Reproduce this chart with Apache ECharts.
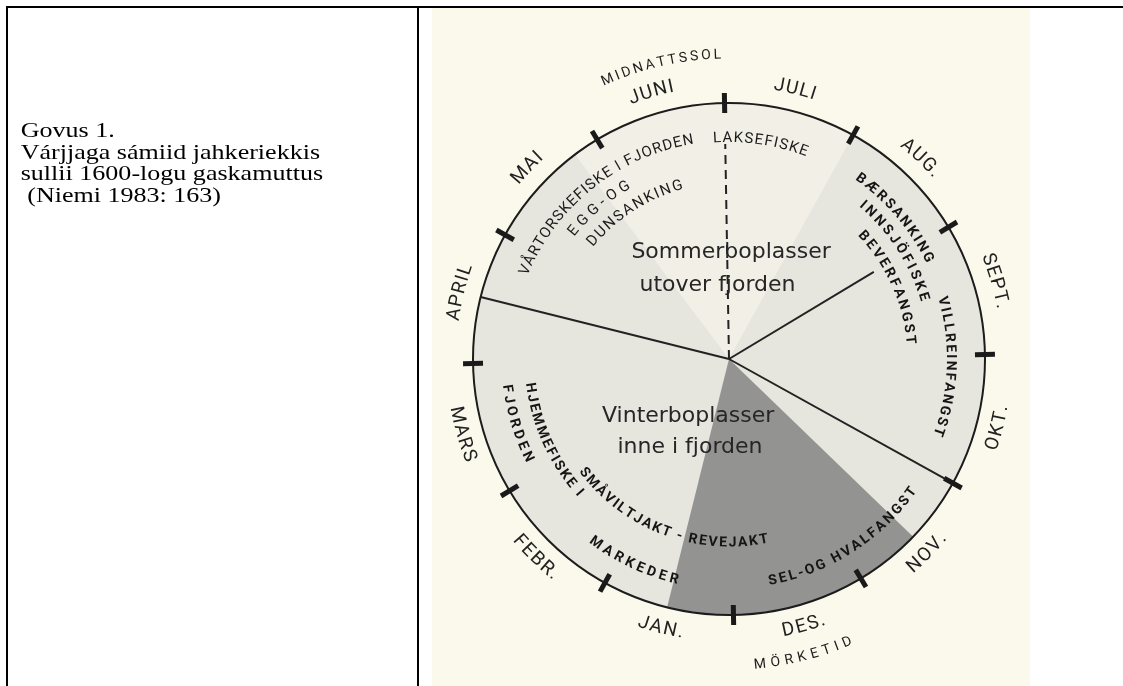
<!DOCTYPE html>
<html>
<head>
<meta charset="utf-8">
<style>
  html, body { margin: 0; padding: 0; background: #fff; }
  #chart { width: 1123px; height: 686px; }
</style>
<script src="https://cdn.jsdelivr.net/npm/echarts@6/dist/echarts.min.js"></script>
</head>
<body>
<div id="chart"></div>
<script>
// months run clockwise from the top, one axis unit per month
const months = ['JULI', 'AUG.', 'SEPT.', 'OKT.', 'NOV.', 'DES.', 'JAN.', 'FEBR.', 'MARS', 'APRIL', 'MAI', 'JUNI'];

// shaded periods, [from, to] in months
const wholeYear = [0, 12];
const midnightSun = [10.8, 13];
const darkTime = [4.5, 6.5];

// lines out from the hub: [month, radius]
const dividers = [[9.5, 1.0], [4.0, 1.02], [2.0, 0.66]];
const salmonLine = [[0.0, 0.84]];

// outer notes
const noteTexts = ['MIDNATTSSOL', 'MÖRKETID'];
const noteFrom = [11.25, 5.84];
const noteTo = [11.96, 5.28];
const noteRadius = [1.188, 1.2];

// spring / summer activities
const activityTexts = ['VÅRTORSKEFISKE I FJORDEN', 'EGG-OG', 'DUNSANKING', 'LAKSEFISKE'];
const activityFrom = [9.82, 10.35, 10.40, -0.07];
const activityTo = [11.68, 10.99, 11.48, 0.69];
const activityRadius = [0.867, 0.785, 0.703, 0.862];

// autumn / winter activities
const huntTexts = ['BÆRSANKING', 'INNSJÖFISKE', 'BEVERFANGST', 'VILLREINFANGST', 'HJEMMEFISKE I', 'FJORDEN',
  'SMÅVILTJAKT - REVEJAKT', 'MARKEDER', 'SEL-OG HVALFANGST'];
const huntFrom = [1.24, 1.40, 1.62, 2.53, 8.76, 8.78, 7.76, 7.23, 5.66];
const huntTo = [2.13, 2.44, 2.83, 3.67, 7.64, 8.17, 5.67, 6.50, 4.24];
const huntRadius = [0.871, 0.797, 0.711, 0.865, 0.785, 0.875, 0.719, 0.887, 0.883];

// settlement labels: [month, radius]
const campTexts = ['Sommerboplasser', 'utover fjorden', 'Vinterboplasser', 'inne i fjorden'];
const campAt = [[0.07, 0.418], [11.74, 0.293], [7.22, 0.274], [6.83, 0.376]];

const captionLines = ['Govus 1.', 'Várjjaga sámiid jahkeriekkis', 'sullii 1600-logu gaskamuttus', ' (Niemi 1983: 163)'];

const unitDeg = 360 / months.length;
const ctx = document.createElement('canvas').getContext('2d');
const INK = '#1c1c1c';

function widths(text, st) {
  ctx.font = `${st.fontWeight} ${st.fontSize}px ${st.fontFamily}`;
  return Array.from(text).map((ch) => ctx.measureText(ch).width);
}

function radiusPx(api) {
  const c = api.coord([0, 0]);
  const e = api.coord([1, 0]);
  return Math.hypot(e[0] - c[0], e[1] - c[1]);
}

// put characters one by one along the circle
function arcGroup(api, text, st, v0, dir, rf, steps) {
  const c = api.coord([0, 0]);
  const R = radiusPx(api);
  let s = 0;
  const children = Array.from(text).map((ch, k) => {
    if (k > 0) s += steps[k - 1];
    const v = v0 + dir * (s / (rf * R)) * 180 / Math.PI / unitDeg;
    const p = api.coord([rf, v]);
    const a = Math.atan2(p[0] - c[0], c[1] - p[1]);
    return {
      type: 'text', x: p[0], y: p[1], rotation: dir > 0 ? -a : Math.PI - a,
      style: { text: ch, fill: st.fill, fontSize: st.fontSize, fontFamily: st.fontFamily, fontWeight: st.fontWeight, align: 'center', verticalAlign: 'middle' }
    };
  });
  return { type: 'group', children };
}

function fittedArc(api, text, st, v0, v1, rf) {
  const w = widths(text, st);
  const R = radiusPx(api);
  let nat = 0;
  for (let k = 1; k < w.length; k++) nat += (w[k - 1] + w[k]) / 2;
  const target = Math.abs(v1 - v0) * unitDeg * Math.PI / 180 * rf * R;
  const extra = w.length > 1 ? (target - nat) / (w.length - 1) : 0;
  const steps = [];
  for (let k = 1; k < w.length; k++) steps.push((w[k - 1] + w[k]) / 2 + extra);
  return arcGroup(api, text, st, v0, v1 >= v0 ? 1 : -1, rf, steps);
}

function centeredArc(api, text, st, vc, rf, sp, dir) {
  const w = widths(text, st);
  const R = radiusPx(api);
  const steps = [];
  let total = 0;
  for (let k = 1; k < w.length; k++) { steps.push((w[k - 1] + w[k]) / 2 + sp); total += steps[k - 1]; }
  const half = (total / 2) / (rf * R) * 180 / Math.PI / unitDeg;
  return arcGroup(api, text, st, vc - dir * half, dir, rf, steps);
}

function wedge(api, fill, withHub) {
  const v0 = api.value(0), v1 = api.value(1);
  const pts = withHub ? [api.coord([0, 0])] : [];
  const n = 120;
  for (let k = 0; k <= n; k++) pts.push(api.coord([1, v0 + (v1 - v0) * k / n]));
  return { type: 'polygon', shape: { points: pts }, style: { fill } };
}

const monthStyle = { fontSize: 19, fontFamily: 'Roboto', fontWeight: 400, fill: '#222' };
const noteStyle = { fontSize: 14, fontFamily: 'Roboto', fontWeight: 400, fill: INK };
const activityStyle = { fontSize: 15, fontFamily: 'Roboto', fontWeight: 400, fill: INK };
const huntStyle = { fontSize: 14, fontFamily: 'Roboto', fontWeight: 700, fill: '#151515' };

const chart = echarts.init(document.getElementById('chart'));

const option = {
  animation: false,
  polar: { center: [729, 359], radius: 256 },
  angleAxis: {
    type: 'value', min: 0, max: 12, interval: 1, startAngle: 91, clockwise: true, z: 5,
    axisLine: { show: true, lineStyle: { color: INK, width: 2 } },
    axisTick: { show: false }, axisLabel: { show: false }, splitLine: { show: false }
  },
  radiusAxis: {
    type: 'value', min: 0, max: 1,
    axisLine: { show: false }, axisTick: { show: false }, axisLabel: { show: false }, splitLine: { show: false }
  },
  graphic: [
    { type: 'rect', z: -10, shape: { x: 432, y: 8, width: 598, height: 678 }, style: { fill: '#fbf9ec' } },
    { type: 'line', shape: { x1: 6, y1: 7, x2: 1123, y2: 7 }, style: { stroke: '#000', lineWidth: 2 } },
    { type: 'line', shape: { x1: 7, y1: 6, x2: 7, y2: 686 }, style: { stroke: '#000', lineWidth: 2 } },
    { type: 'line', shape: { x1: 418, y1: 6, x2: 418, y2: 686 }, style: { stroke: '#000', lineWidth: 2 } },
    ...captionLines.map((t, i) => ({
      type: 'text', x: 20.7, y: 131.5 + i * 21.5, scaleX: 1.24,
      style: { text: t, fontSize: 21, fontFamily: '"Liberation Serif", "Times New Roman", serif', fill: '#000', verticalAlign: 'middle' }
    }))
  ],
  series: [
    {
      type: 'custom', coordinateSystem: 'polar', z: 1, silent: true,
      data: [wholeYear],
      renderItem: (params, api) => wedge(api, '#e6e5de', false)
    },
    {
      type: 'custom', coordinateSystem: 'polar', z: 1, silent: true,
      data: [midnightSun],
      renderItem: (params, api) => wedge(api, '#f1efe6', true)
    },
    {
      type: 'custom', coordinateSystem: 'polar', z: 2, silent: true,
      data: [darkTime],
      renderItem: (params, api) => wedge(api, '#939392', true)
    },
    {
      type: 'custom', coordinateSystem: 'polar', z: 3, silent: true,
      data: dividers,
      renderItem: (params, api) => {
        const c = api.coord([0, 0]);
        const p = api.coord([api.value(1), api.value(0)]);
        return { type: 'line', shape: { x1: c[0], y1: c[1], x2: p[0], y2: p[1] }, style: { stroke: '#222', lineWidth: 2 } };
      }
    },
    {
      type: 'custom', coordinateSystem: 'polar', z: 3, silent: true,
      data: salmonLine,
      renderItem: (params, api) => {
        const c = api.coord([0, 0]);
        const p = api.coord([api.value(1), api.value(0)]);
        return { type: 'line', shape: { x1: c[0], y1: c[1], x2: p[0], y2: p[1] }, style: { stroke: '#222', lineWidth: 2, lineDash: [9, 6] } };
      }
    },
    {
      // month boundary ticks across the rim
      type: 'custom', coordinateSystem: 'polar', z: 6, silent: true,
      data: months.map((m, i) => [i]),
      renderItem: (params, api) => {
        const a = api.coord([0.961, api.value(0)]);
        const b = api.coord([1.039, api.value(0)]);
        return { type: 'line', shape: { x1: a[0], y1: a[1], x2: b[0], y2: b[1] }, style: { stroke: '#1a1a1a', lineWidth: 5 } };
      }
    },
    {
      type: 'custom', coordinateSystem: 'polar', z: 7, silent: true,
      data: months.map((m, i) => [i + 0.5, 1.085]),
      renderItem: (params, api) => {
        const vc = api.value(0);
        const dir = (vc < 3 || vc > 9) ? 1 : -1;
        return centeredArc(api, months[params.dataIndex], monthStyle, vc, api.value(1), 1.5, dir);
      }
    },
    {
      type: 'custom', coordinateSystem: 'polar', z: 7, silent: true,
      data: noteTexts.map((t, i) => [noteFrom[i], noteTo[i], noteRadius[i]]),
      renderItem: (params, api) => fittedArc(api, noteTexts[params.dataIndex], noteStyle, api.value(0), api.value(1), api.value(2))
    },
    {
      type: 'custom', coordinateSystem: 'polar', z: 7, silent: true,
      data: activityTexts.map((t, i) => [activityFrom[i], activityTo[i], activityRadius[i]]),
      renderItem: (params, api) => fittedArc(api, activityTexts[params.dataIndex], activityStyle, api.value(0), api.value(1), api.value(2))
    },
    {
      type: 'custom', coordinateSystem: 'polar', z: 7, silent: true,
      data: huntTexts.map((t, i) => [huntFrom[i], huntTo[i], huntRadius[i]]),
      renderItem: (params, api) => fittedArc(api, huntTexts[params.dataIndex], huntStyle, api.value(0), api.value(1), api.value(2))
    },
    {
      type: 'custom', coordinateSystem: 'polar', z: 7, silent: true,
      data: campAt,
      renderItem: (params, api) => {
        const p = api.coord([api.value(1), api.value(0)]);
        return {
          type: 'text', x: p[0], y: p[1],
          style: { text: campTexts[params.dataIndex], fontSize: 22, fontFamily: '"DejaVu Sans"', fill: '#262626', align: 'center', verticalAlign: 'middle' }
        };
      }
    }
  ]
};

chart.setOption(option);
</script>
</body>
</html>
